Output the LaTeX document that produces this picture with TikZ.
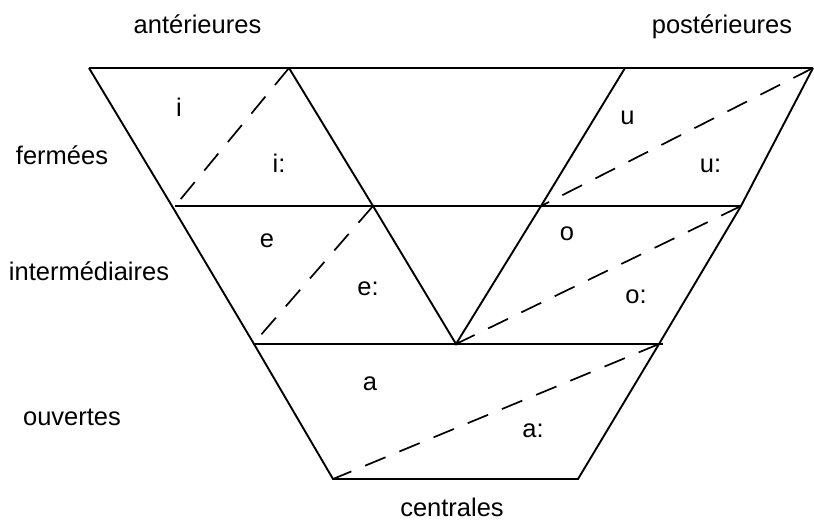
\documentclass[tikz,border=0pt]{standalone}
\usepackage{fontspec}
\setmainfont{Liberation Sans}
\begin{document}
\begin{tikzpicture}[x=1pt,y=-1pt,
  edge/.style={line width=1.9pt},
  guide/.style={line width=1.7pt, dash pattern=on 22pt off 15pt},
  lab/.style={anchor=base, inner sep=0pt, font=\fontsize{25.5}{30}\selectfont}]
\useasboundingbox (0,0) rectangle (814,520);
% outer corners
\coordinate (TL) at (89,68);
\coordinate (TR) at (813,68);
\coordinate (L1) at (172,206);
\coordinate (L2) at (254,344);
\coordinate (BL) at (333,479);
\coordinate (R1) at (741,206);
\coordinate (R2) at (659,344);
\coordinate (BR) at (578,479);
% row line ends
\coordinate (H1a) at (175,206);
\coordinate (H1b) at (742,206);
\coordinate (H2a) at (253,344);
\coordinate (H2b) at (663,344);
% inner V
\coordinate (VL0) at (289,68);
\coordinate (VL1) at (373,206);
\coordinate (VB) at (456,344);
\coordinate (VR0) at (625,68);
\coordinate (VR1) at (541,206);
% frame
\draw[edge] (TL) -- (TR);
\draw[edge] (TL) -- (L1) -- (L2) -- (BL) -- (BR) -- (R2) -- (R1) -- (TR);
\draw[edge] (H1a) -- (H1b);
\draw[edge] (H2a) -- (H2b);
\draw[edge] (VL0) -- (VL1) -- (VB) -- (VR1) -- (VR0);
% dashed diagonals
\draw[guide] (VL0) -- (H1a);
\draw[guide] (VL1) -- (H2a);
\draw[guide] (TR) -- (VR1);
\draw[guide] (R1) -- (VB);
\draw[guide] (R2) -- (BL);
% axis labels
\node[lab] (ant) at (197.5,33) {antérieures};
\node[lab] (post) at (722,33) {postérieures};
\node[lab] (ferm) at (62,164) {fermées};
\node[lab] (inter) at (89,280) {intermédiaires};
\node[lab] (ouv) at (72,425) {ouvertes};
\node[lab] (cent) at (452,516) {centrales};
% vowels
\node[lab] (vi) at (179,116) {i};
\node[lab] (vii) at (279,172) {i:};
\node[lab] (vu) at (627.5,124) {u};
\node[lab] (vuu) at (710.5,172) {u:};
\node[lab] (ve) at (267,247) {e};
\node[lab] (vee) at (368,295) {e:};
\node[lab] (vo) at (567,240) {o};
\node[lab] (voo) at (636,303) {o:};
\node[lab] (va) at (370,390) {a};
\node[lab] (vaa) at (533,437) {a:};
\end{tikzpicture}
\end{document}
